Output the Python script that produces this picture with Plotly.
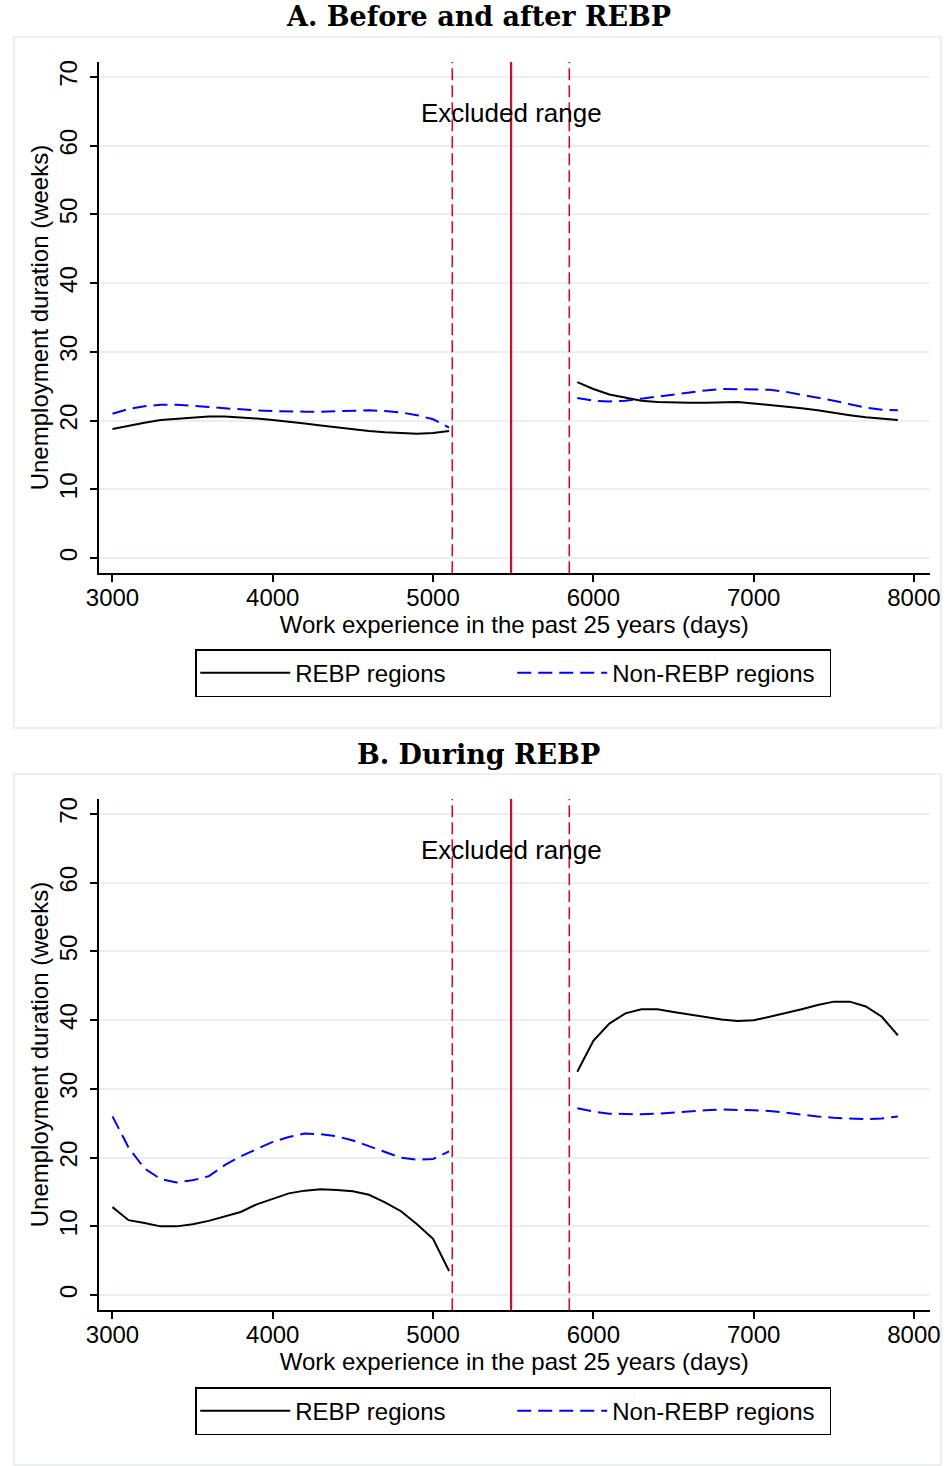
import plotly.graph_objects as go

# work experience grid (days), each side of the excluded range
x_left = [3000, 3100, 3200, 3300, 3400, 3500, 3600, 3700, 3800, 3900, 4000,
          4100, 4200, 4300, 4400, 4500, 4600, 4700, 4800, 4900, 5000, 5100]
x_right = [5900, 6000, 6100, 6200, 6300, 6400, 6500, 6600, 6700, 6800, 6900,
           7000, 7100, 7200, 7300, 7400, 7500, 7600, 7700, 7800, 7900]

# panel A: before and after REBP
a_rebp_left = [18.8, 19.3, 19.7, 20.1, 20.3, 20.5, 20.6, 20.6, 20.5, 20.3, 20.1,
               19.9, 19.6, 19.3, 19.0, 18.7, 18.5, 18.3, 18.2, 18.1, 18.2, 18.5]
a_non_left = [21.0, 21.7, 22.1, 22.3, 22.3, 22.2, 22.0, 21.8, 21.6, 21.5, 21.4,
              21.3, 21.3, 21.3, 21.4, 21.4, 21.5, 21.4, 21.2, 20.8, 20.2, 19.0]
a_rebp_right = [25.6, 24.6, 23.8, 23.3, 22.9, 22.7, 22.6, 22.6, 22.6, 22.7, 22.7,
                22.5, 22.3, 22.0, 21.8, 21.5, 21.1, 20.8, 20.5, 20.3, 20.1]
a_non_right = [23.3, 22.9, 22.8, 22.9, 23.2, 23.5, 23.9, 24.2, 24.4, 24.6, 24.6,
               24.6, 24.5, 24.2, 23.8, 23.3, 22.9, 22.4, 21.9, 21.6, 21.5]

# panel B: during REBP
b_rebp_left = [12.8, 10.9, 10.5, 10.0, 10.0, 10.3, 10.8, 11.5, 12.1, 13.2, 14.0,
               14.8, 15.2, 15.4, 15.3, 15.1, 14.6, 13.5, 12.2, 10.3, 8.2, 3.5]
b_non_left = [26.0, 21.5, 18.4, 16.9, 16.4, 16.7, 17.3, 18.9, 20.2, 21.3, 22.3,
              23.0, 23.5, 23.4, 23.1, 22.5, 21.7, 20.8, 20.0, 19.7, 19.8, 20.9]
b_rebp_right = [32.5, 37.0, 39.5, 41.0, 41.6, 41.6, 41.2, 40.8, 40.4, 40.1, 39.9,
                40.0, 40.5, 41.0, 41.6, 42.2, 42.7, 42.7, 42.0, 40.5, 37.8]
b_non_right = [27.2, 26.7, 26.4, 26.3, 26.3, 26.4, 26.6, 26.7, 26.9, 27.0, 27.0,
               26.9, 26.8, 26.5, 26.2, 26.0, 25.8, 25.7, 25.6, 25.7, 26.0]

# excluded range and cutoff
cutoff = 5487
excl_lo = 5120
excl_hi = 5850

titles = ["A. Before and after REBP", "B. During REBP"]
y_ticks = [0, 10, 20, 30, 40, 50, 60, 70]
x_ticks = [3000, 4000, 5000, 6000, 7000, 8000]

W, H = 952, 1466
FONT = "Liberation Sans"
RED = "rgb(200,16,46)"


def py(px):
    return 1 - px / H


def px_(x):
    # horizontal pixel -> paper, corrected for the page being squeezed a bit
    return (x - 12.4) / 0.9755 / W


panels = [
    dict(ax="", top=60, bot=572, frame=(35, 727), title_y=15, leg_y=672,
         data=(a_rebp_left, a_non_left, a_rebp_right, a_non_right)),
    dict(ax="2", top=798, bot=1310, frame=(773, 1465), title_y=754, leg_y=1411,
         data=(b_rebp_left, b_non_left, b_rebp_right, b_non_right)),
]

fig = go.Figure()
shapes = []
annotations = []

for k, p in enumerate(panels):
    xa, ya = "x" + p["ax"], "y" + p["ax"]
    leg = "legend" + p["ax"]
    rl, nl, rr, nr = p["data"]
    first = True
    for xs, rv, nv in [(x_left, rl, nl), (x_right, rr, nr)]:
        fig.add_trace(go.Scatter(
            x=xs, y=rv, mode="lines", name="REBP regions",
            line=dict(color="black", width=2),
            xaxis=xa, yaxis=ya, legend=leg, showlegend=first,
            legendgroup="rebp" + p["ax"]))
        fig.add_trace(go.Scatter(
            x=xs, y=nv, mode="lines", name="Non-REBP regions",
            line=dict(color="blue", width=2, dash="14px,7px"),
            xaxis=xa, yaxis=ya, legend=leg, showlegend=first,
            legendgroup="non" + p["ax"]))
        first = False

    # panel frame
    shapes.append(dict(type="rect", xref="paper", yref="paper",
                       x0=1 / W, x1=1.0, y0=py(p["frame"][1]), y1=py(p["frame"][0]),
                       line=dict(color="#e3eaea", width=1.5), layer="below"))
    # excluded range lines
    for xv, dash, wd in [(excl_lo, "12px,5px", 1.6), (cutoff, "solid", 2.2),
                         (excl_hi, "12px,5px", 1.6)]:
        shapes.append(dict(type="line", xref=xa, yref=ya + " domain",
                           x0=xv, x1=xv, y0=0, y1=1,
                           line=dict(color=RED, width=wd, dash=dash)))
    annotations.append(dict(text="Excluded range", x=cutoff, y=64.8, xref=xa, yref=ya,
                            showarrow=False, font=dict(family=FONT, size=26, color="black")))
    annotations.append(dict(text="<b>" + titles[k] + "</b>", x=px_(478), y=py(p["title_y"]),
                            xref="paper", yref="paper", showarrow=False,
                            xanchor="center", yanchor="middle",
                            font=dict(family="DejaVu Serif", size=27, color="black")))

    dom_y = [py(p["bot"]), py(p["top"])]
    axis_common = dict(showline=True, linecolor="black", linewidth=1.5,
                       ticks="outside", ticklen=7, tickwidth=1.5, tickcolor="black",
                       tickfont=dict(family=FONT, size=24, color="black"),
                       zeroline=False)
    fig.layout["xaxis" + p["ax"]] = dict(
        domain=[px_(98), px_(930)], range=[2913, 8100], anchor=ya,
        tickvals=x_ticks, showgrid=False, ticklabelstandoff=-5,
        title=dict(text="Work experience in the past 25 years (days)",
                   font=dict(family=FONT, size=24, color="black"), standoff=2),
        **axis_common)
    fig.layout["yaxis" + p["ax"]] = dict(
        domain=dom_y, range=[-2.2, 72.2], anchor=xa,
        tickvals=y_ticks, tickangle=-90, showgrid=True, ticklabelstandoff=3,
        gridcolor="#e9f0f2", gridwidth=1.5,
        title=dict(text="Unemployment duration (weeks)",
                   font=dict(family=FONT, size=24, color="black"), standoff=0),
        **axis_common)
    fig.layout[leg] = dict(
        x=px_(513), y=py(p["leg_y"]), xanchor="center", yanchor="middle",
        orientation="h", bordercolor="black", borderwidth=1.5,
        bgcolor="white", font=dict(family=FONT, size=24, color="black"),
        entrywidth=212, itemwidth=90, tracegroupgap=0)

fig.update_layout(
    width=W, height=H,
    margin=dict(l=0, r=0, t=0, b=0),
    paper_bgcolor="white", plot_bgcolor="white",
    shapes=shapes, annotations=annotations,
)

fig.write_html("out.html", config={"displayModeBar": False},
               post_script="document.body.style.margin='0px';")
